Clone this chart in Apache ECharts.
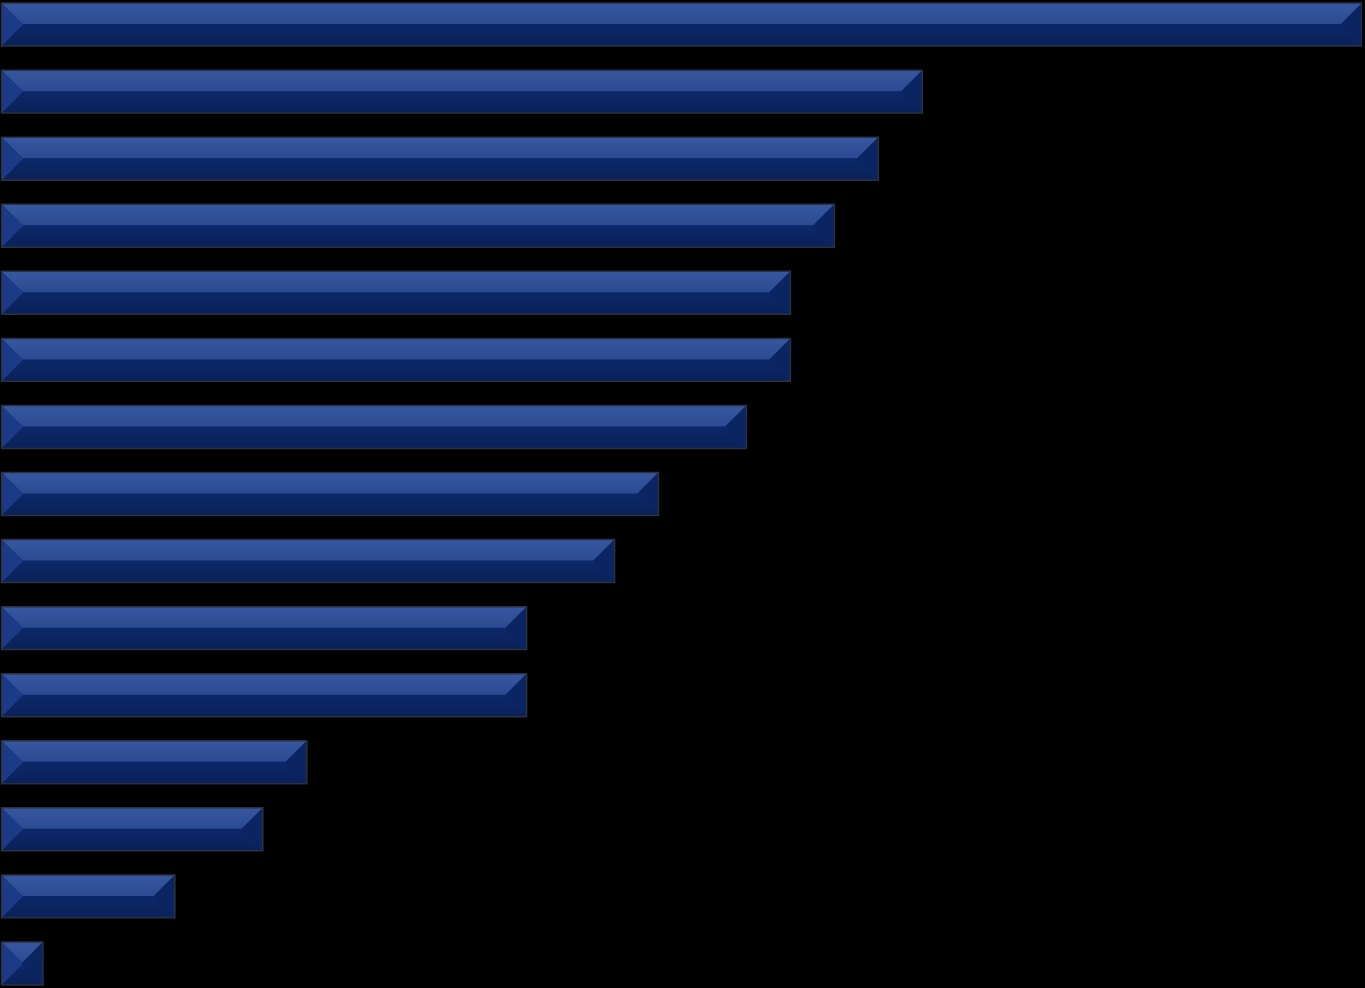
<!DOCTYPE html>
<html>
<head>
<meta charset="utf-8">
<style>
html,body{margin:0;padding:0;background:#000;overflow:hidden;width:1365px;height:988px;}
#chart{position:absolute;left:-1px;top:-9px;width:1363px;height:1006px;}
</style>
<script src="https://cdn.jsdelivr.net/npm/echarts@6/dist/echarts.min.js"></script>
</head>
<body>
<div id="chart"></div>
<script>
var categories = ['1','2','3','4','5','6','7','8','9','10','11','12','13','14','15'];
var values = [31,21,20,19,18,18,17,15,14,12,12,7,6,4,1];

var chart = echarts.init(document.getElementById('chart'));

function renderItem(params, api) {
  var cat = api.value(0);
  var val = api.value(1);
  var p0 = api.coord([0, cat]);
  var p1 = api.coord([val, cat]);
  var band = api.size([0, 1])[1];
  var h = band * 0.64;
  var x0 = p0[0] + 2.5, x1 = p1[0];
  var y0 = p0[1] - h / 2, y1 = p0[1] + h / 2, ym = p0[1];
  var w = x1 - x0;
  var b = Math.min(h / 2, w / 2, 21);
  var top = [[x0,y0],[x1,y0],[x1-b,ym-(h/2-b)],[x0+b,ym-(h/2-b)]];
  var bot = [[x0,y1],[x1,y1],[x1-b,ym+(h/2-b)],[x0+b,ym+(h/2-b)]];
  var left = [[x0,y0],[x0+b,ym-(h/2-b)],[x0+b,ym+(h/2-b)],[x0,y1]];
  var right = [[x1,y0],[x1-b,ym-(h/2-b)],[x1-b,ym+(h/2-b)],[x1,y1]];
  return {
    type: 'group',
    children: [
      {type:'rect', shape:{x:x0, y:y0, width:w, height:h}, style:{fill:'#0c2666'}},
      {type:'polygon', shape:{points:top}, style:{fill:new echarts.graphic.LinearGradient(0,0,0,1,[{offset:0,color:'#3757a0'},{offset:1,color:'#2b4a92'}])}},
      {type:'polygon', shape:{points:bot}, style:{fill:new echarts.graphic.LinearGradient(0,0,0,1,[{offset:0,color:'#0c2869'},{offset:1,color:'#0a2158'}])}},
      {type:'polygon', shape:{points:left}, style:{fill:'#1d3a86'}},
      {type:'polygon', shape:{points:right}, style:{fill:'#0b2462'}},
      {type:'rect', shape:{x:x0, y:y0, width:w, height:h}, style:{fill:null, stroke:'#2b3140', lineWidth:1.5}}
    ]
  };
}

var data = values.map(function(v, i){ return [i, v]; });

chart.setOption({
  backgroundColor: '#000000',
  animation: false,
  grid: {left: 0, right: 0, top: 0, bottom: 0, containLabel: false},
  xAxis: {type:'value', min:0, max:31, show:false},
  yAxis: {type:'category', data:categories, inverse:true, show:false},
  series: [{
    type: 'custom',
    renderItem: renderItem,
    encode: {x: 1, y: 0},
    data: data
  }]
});
</script>
</body>
</html>
